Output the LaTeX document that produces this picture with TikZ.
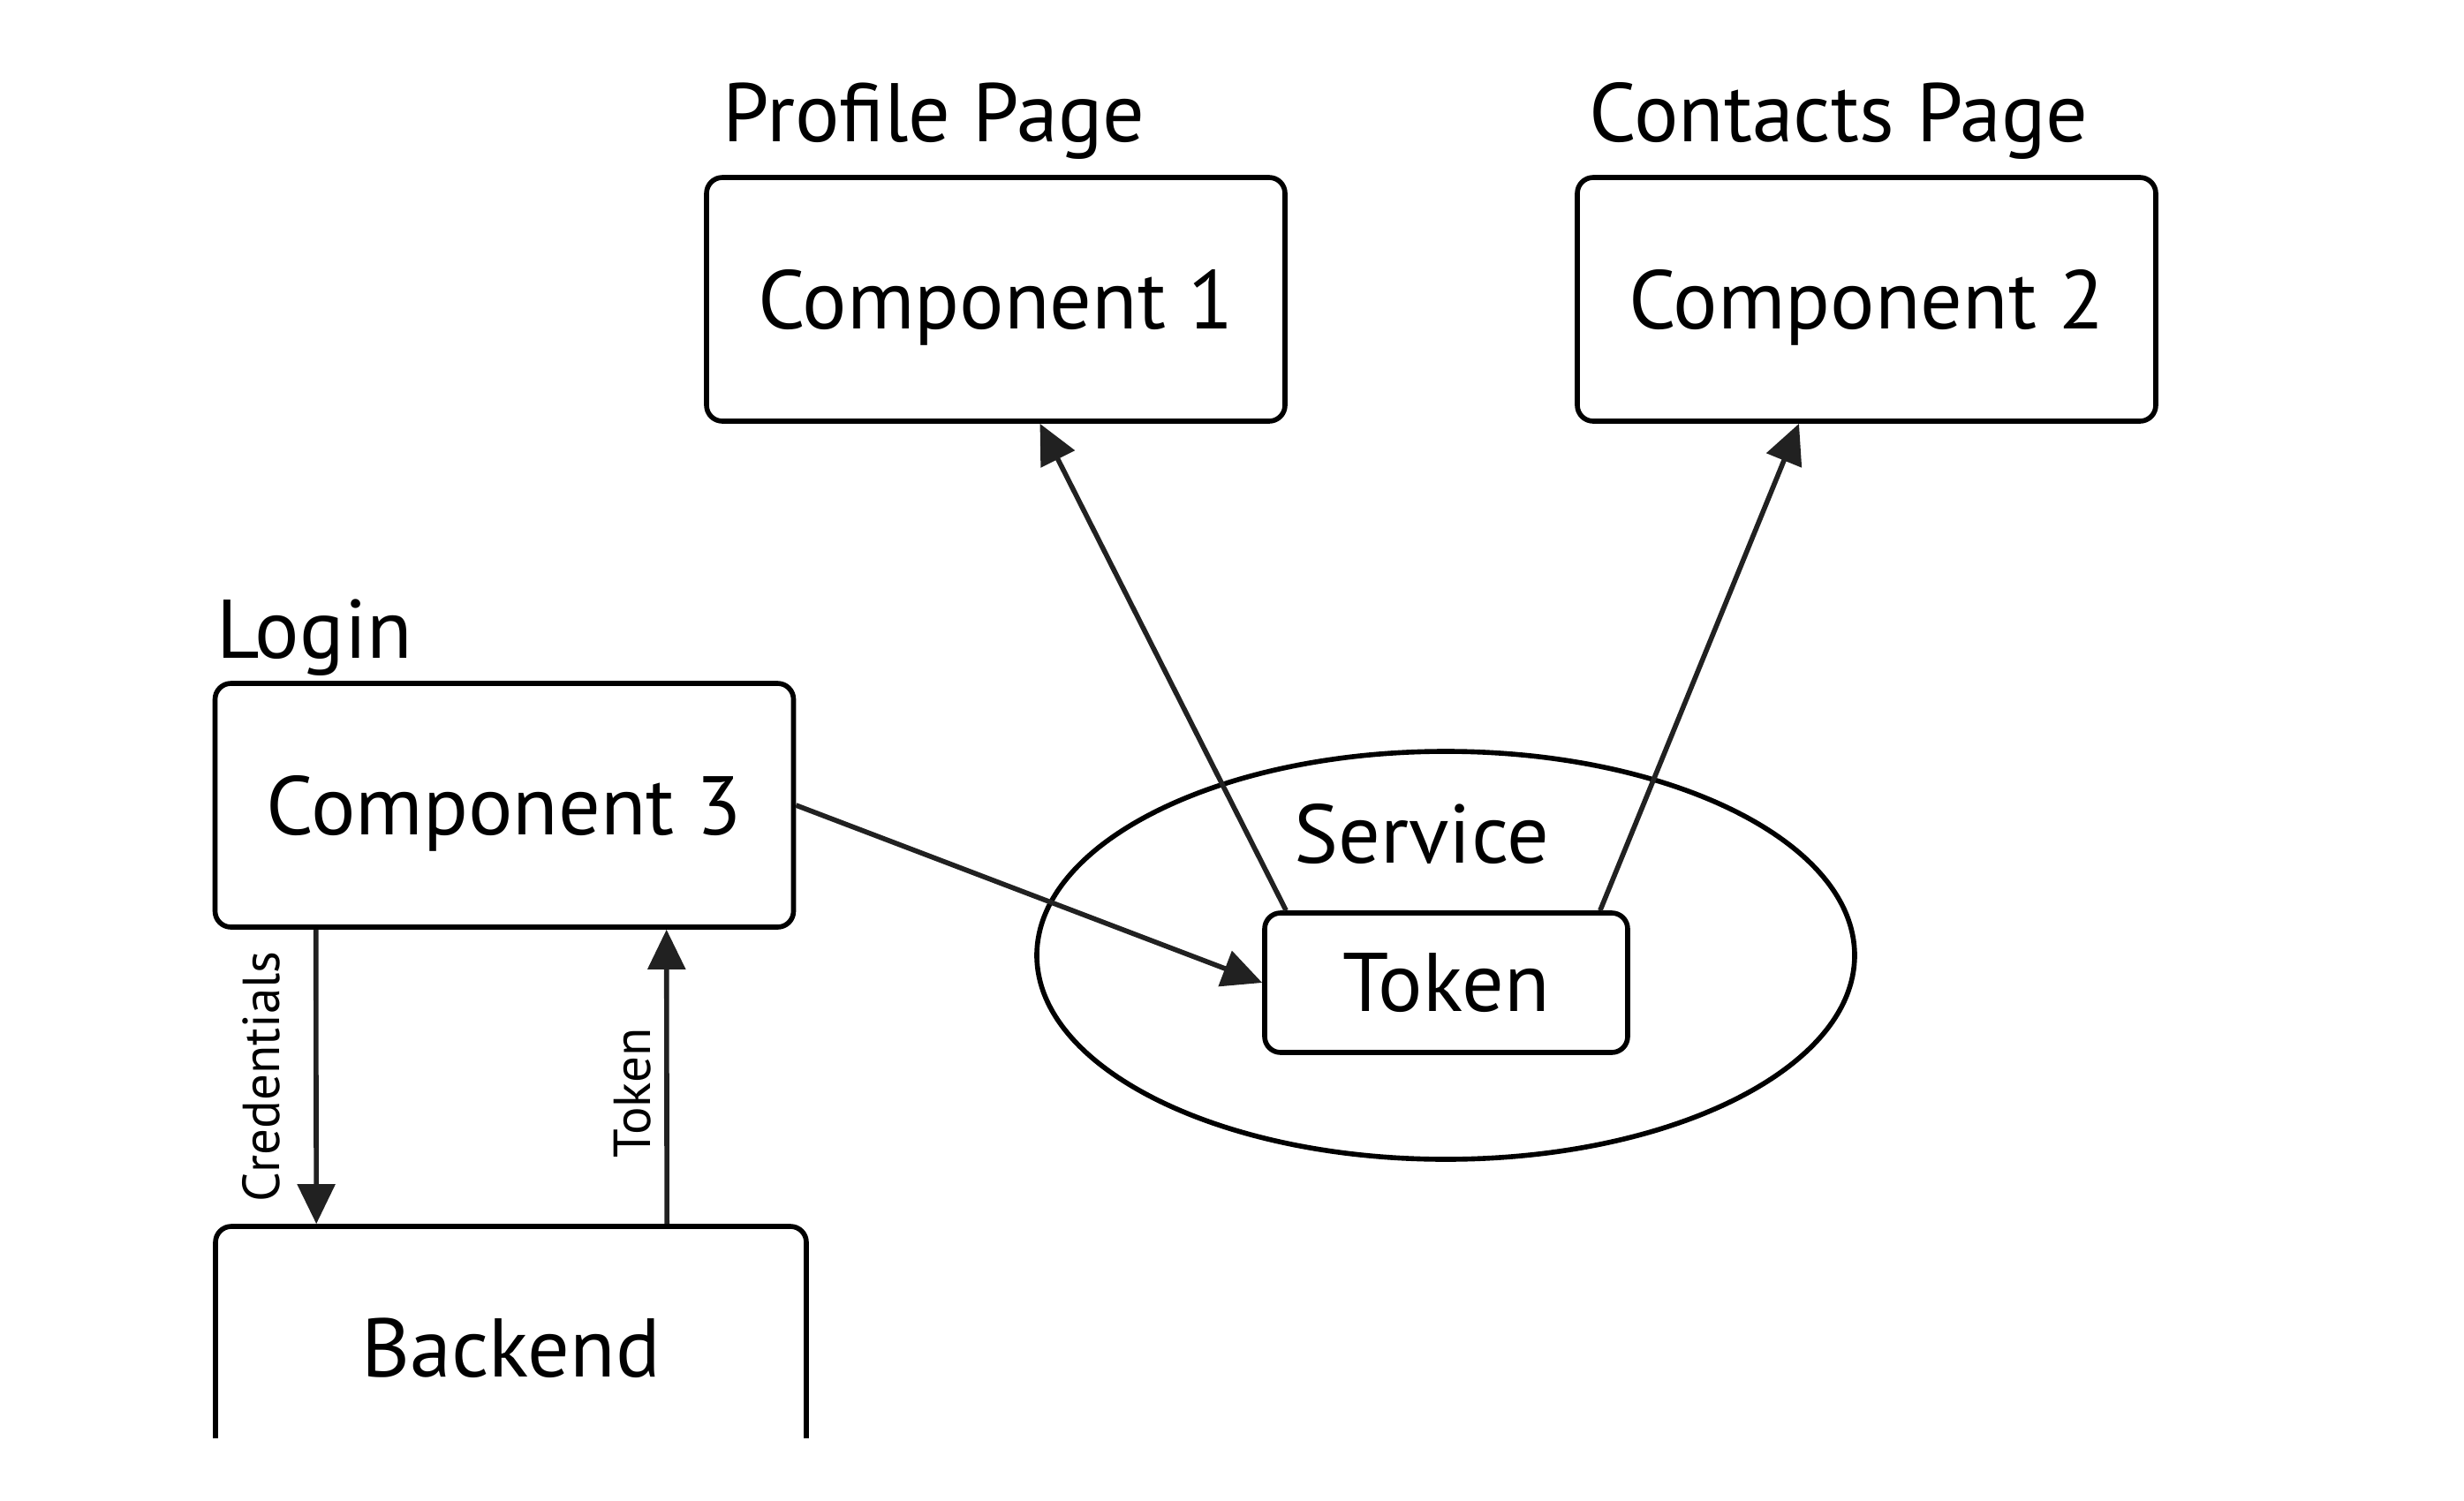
\documentclass[tikz,border=0pt]{standalone}
\usepackage{fontspec}
\setmainfont{PT Sans}
\usetikzlibrary{arrows.meta,shapes.geometric}
\tikzset{
	box/.style={draw, rounded corners=0.18cm, line width=1.6pt, minimum width=6.55cm, minimum height=2.76cm, inner sep=0pt, text depth=0pt, font=\fontsize{26.8}{30}\selectfont},
	title/.style={inner sep=0pt, font=\fontsize{26.8}{30}\selectfont},
	flow/.style={draw=black!87, line width=1.6pt, -{Triangle[length=0.45cm, width=0.42cm]}},
	tag/.style={rotate=90, anchor=base, inner sep=0pt, font=\fontsize{16.8}{20}\selectfont}
}

\begin{document}
\begin{tikzpicture}[y=-1cm]
		\fill[white] (0,0) rectangle (27.9,17);
		\useasboundingbox (0,0) rectangle (27.9,17);
		\node[box] (comp1) at (11.275, 3.39) {Component 1};
		\node[box] (comp2) at (21.135, 3.39) {Component 2};
		\node[box] (comp3) at (5.71, 9.12) {Component 3};
		\node[title, anchor=base west] (profile) at (8.18, 1.60) {Profile Page};
		\node[title, anchor=base west] (contacts) at (17.99, 1.60) {Contacts Page};
		\node[title, anchor=base west] (login) at (2.45, 7.45) {Login};
		\node[draw, ellipse, line width=1.6pt, minimum width=9.26cm, minimum height=4.62cm] (service) at (16.37, 10.82) {};
		\node[title] (servicelabel) at (16.10, 9.45) {Service};
		\node[box, minimum width=4.11cm, minimum height=1.58cm] (token) at (16.375, 11.13) {Token};
		\begin{scope}
			\clip (0,0) rectangle (27.9,16.28);
			\node[box, minimum width=6.69cm, minimum height=2.74cm] (backend) at (5.785, 15.26) {Backend};
		\end{scope}
		\draw[flow] (comp3.east) -- (token.west);
		\draw[flow] ([xshift=0.27cm]token.north west) -- ([xshift=0.5cm]comp1.south);
		\draw[flow] ([xshift=-0.34cm]token.north east) -- ([xshift=-0.765cm]comp2.south);
		\draw[flow] ([xshift=1.17cm]comp3.south west) -- ([xshift=1.17cm]backend.north west) node[midway, xshift=-0.41cm, tag] {Credentials};
		\draw[flow] ([xshift=5.14cm]backend.north west) -- ([xshift=5.14cm]comp3.south west) node[pos=0.445, xshift=-0.185cm, tag] {Token};
	\end{tikzpicture}
\end{document}
